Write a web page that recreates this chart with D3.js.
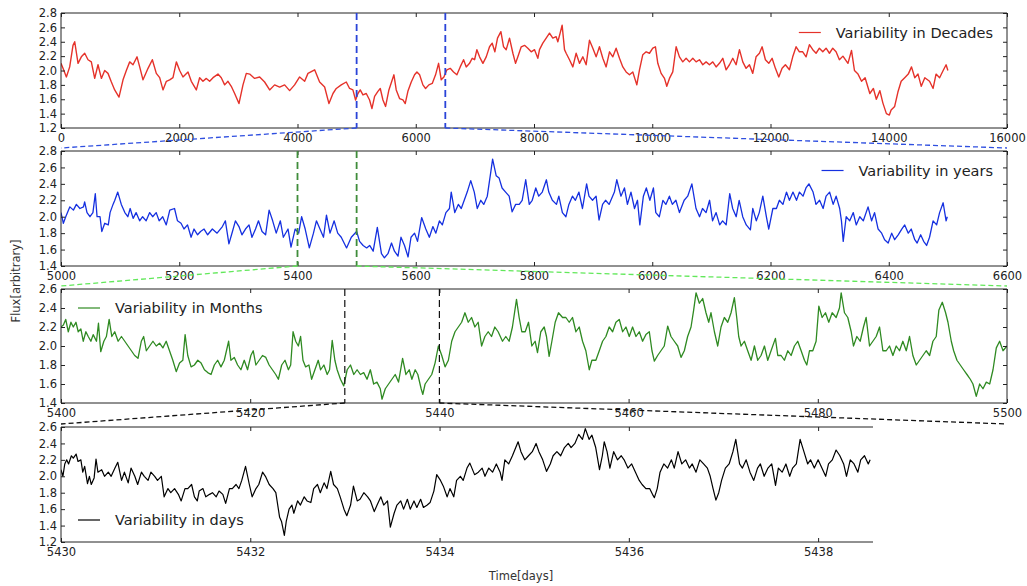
<!DOCTYPE html>
<html><head><meta charset="utf-8">
<script src="https://cdn.jsdelivr.net/npm/d3@7"></script>
<style>body{margin:0;background:#fff} svg{display:block;font-family:"DejaVu Sans",sans-serif}</style>
</head><body><svg id="c" width="1027" height="586"></svg>
<script>
// ---------------- DATA ----------------
const decadesSeries = [[0,2.10],[34,2.03],[91,1.91],[147,2.05],[203,2.35],[232,2.40],[288,2.10],[344,2.19],[401,2.24],[457,2.15],[513,2.12],[570,1.89],[626,2.08],[683,1.89],[739,2.00],[795,1.96],[852,1.84],[908,1.73],[981,1.63],[1049,1.87],[1105,2.00],[1162,2.12],[1218,2.08],[1286,2.19],[1331,2.05],[1387,1.87],[1472,2.03],[1545,2.15],[1612,1.96],[1669,1.90],[1725,1.73],[1782,1.85],[1838,1.87],[1894,1.90],[1951,2.12],[2007,2.00],[2063,1.91],[2148,1.98],[2204,1.85],[2289,1.73],[2345,1.90],[2401,1.85],[2458,1.89],[2514,1.85],[2571,1.90],[2655,1.95],[2711,1.90],[2768,1.80],[2824,1.85],[2880,1.78],[2937,1.68],[3010,1.54],[3078,1.80],[3134,1.96],[3191,1.95],[3275,1.89],[3360,1.91],[3444,1.84],[3529,1.73],[3613,1.80],[3698,1.77],[3782,1.80],[3867,1.72],[3951,1.80],[4036,1.91],[4121,1.85],[4177,1.96],[4290,2.01],[4374,1.84],[4459,1.77],[4532,1.54],[4600,1.68],[4656,1.75],[4740,1.80],[4825,1.84],[4881,1.75],[4937,1.73],[4982,1.59],[5022,1.68],[5061,1.73],[5107,1.66],[5163,1.68],[5219,1.59],[5259,1.47],[5304,1.64],[5360,1.71],[5400,1.75],[5445,1.59],[5490,1.50],[5546,1.73],[5603,1.87],[5631,1.94],[5670,1.73],[5726,1.61],[5783,1.59],[5822,1.54],[5867,1.71],[5924,1.84],[5980,1.94],[6020,1.98],[6065,1.94],[6121,1.80],[6166,1.75],[6222,1.80],[6279,1.82],[6335,1.94],[6386,2.10],[6431,1.87],[6476,1.91],[6527,2.01],[6583,2.03],[6639,1.98],[6696,1.94],[6752,2.05],[6809,2.15],[6854,2.05],[6910,2.10],[6955,2.17],[6995,2.15],[7034,2.29],[7079,2.19],[7136,2.10],[7192,2.19],[7248,2.33],[7293,2.38],[7338,2.26],[7383,2.45],[7440,2.54],[7485,2.33],[7530,2.29],[7586,2.45],[7643,2.24],[7688,2.10],[7727,2.19],[7784,2.33],[7840,2.35],[7896,2.31],[7953,2.26],[8009,2.29],[8065,2.17],[8093,2.29],[8149,2.38],[8206,2.45],[8262,2.52],[8318,2.45],[8375,2.47],[8403,2.40],[8442,2.52],[8476,2.63],[8516,2.29],[8544,2.24],[8600,2.15],[8657,2.05],[8713,2.24],[8769,2.10],[8826,2.19],[8882,2.08],[8938,2.42],[8995,2.31],[9051,2.19],[9107,2.33],[9164,2.17],[9220,2.05],[9277,2.26],[9333,2.19],[9389,2.31],[9446,2.17],[9502,2.05],[9558,1.98],[9615,1.94],[9671,1.98],[9739,1.80],[9784,2.01],[9840,2.22],[9897,2.26],[9953,2.24],[10009,2.31],[10054,2.33],[10094,2.10],[10150,1.96],[10207,1.89],[10246,1.78],[10291,1.89],[10347,1.98],[10404,2.33],[10460,2.19],[10516,2.12],[10573,2.17],[10629,2.12],[10686,2.17],[10742,2.12],[10798,2.15],[10855,2.08],[10911,2.12],[10967,2.08],[11024,2.12],[11080,2.05],[11136,2.10],[11193,2.17],[11249,2.01],[11306,2.08],[11362,2.17],[11418,2.08],[11475,2.29],[11531,2.12],[11587,2.03],[11644,2.08],[11700,1.96],[11756,2.19],[11813,2.24],[11858,2.33],[11914,2.15],[11971,2.10],[12027,2.17],[12083,2.03],[12140,1.91],[12196,2.03],[12252,2.08],[12320,2.01],[12376,2.19],[12433,2.33],[12489,2.26],[12545,2.26],[12602,2.19],[12658,2.36],[12715,2.29],[12771,2.24],[12827,2.31],[12884,2.26],[12940,2.31],[12997,2.24],[13053,2.31],[13109,2.26],[13165,2.15],[13225,2.20],[13310,2.10],[13370,2.28],[13420,2.00],[13480,1.95],[13540,1.85],[13600,1.90],[13680,1.68],[13740,1.75],[13790,1.60],[13850,1.72],[13900,1.55],[13960,1.40],[14010,1.38],[14040,1.45],[14100,1.50],[14155,1.70],[14210,1.85],[14270,1.90],[14330,1.95],[14385,2.05],[14440,1.90],[14495,1.95],[14550,1.78],[14610,1.90],[14690,1.85],[14750,1.75],[14800,1.95],[14860,1.90],[14920,2.00],[14970,2.08],[15000,2.00]];

const yearsSeries = [[5000,2.05],[5004,1.92],[5008,2.0],[5015,2.12],[5021,2.08],[5026,2.15],[5032,2.1],[5038,2.12],[5040,2.18],[5044,2.05],[5049,2.0],[5054,2.05],[5058,2.28],[5061,2.0],[5066,2.0],[5069,1.82],[5074,1.92],[5080,1.9],[5083,2.05],[5088,2.15],[5091,2.2],[5096,2.3],[5102,2.15],[5108,2.05],[5113,2.0],[5117,2.1],[5122,1.98],[5127,2.05],[5133,1.95],[5138,2.0],[5144,1.95],[5150,2.05],[5155,2.0],[5161,2.05],[5166,1.95],[5172,2.0],[5178,1.9],[5184,2.08],[5192,2.1],[5197,1.95],[5203,1.92],[5208,1.85],[5214,1.9],[5220,1.75],[5225,1.85],[5231,1.78],[5236,1.82],[5242,1.85],[5248,1.78],[5256,1.85],[5264,1.8],[5273,1.88],[5278,1.95],[5284,1.67],[5290,1.82],[5295,1.95],[5301,1.88],[5306,1.78],[5312,1.85],[5318,1.9],[5323,1.75],[5329,1.85],[5334,1.95],[5340,1.82],[5346,1.78],[5352,2.08],[5358,1.95],[5364,1.8],[5371,1.95],[5376,1.75],[5384,1.85],[5389,1.63],[5396,1.85],[5402,1.8],[5407,2.0],[5413,1.85],[5420,1.62],[5427,1.8],[5432,1.95],[5438,1.85],[5444,1.75],[5449,2.02],[5455,1.8],[5462,1.95],[5468,1.8],[5474,1.75],[5483,1.62],[5491,1.75],[5500,1.82],[5505,1.7],[5511,1.65],[5517,1.62],[5522,1.65],[5528,1.58],[5535,1.87],[5542,1.55],[5547,1.5],[5553,1.55],[5559,1.68],[5564,1.58],[5570,1.52],[5575,1.75],[5581,1.65],[5587,1.51],[5592,1.75],[5598,1.8],[5603,1.7],[5610,1.99],[5617,1.85],[5623,1.75],[5629,1.88],[5634,1.8],[5640,1.95],[5645,1.9],[5651,2.05],[5657,2.1],[5660,2.3],[5666,2.05],[5672,2.15],[5677,2.1],[5682,2.2],[5687,2.3],[5693,2.44],[5699,2.3],[5704,2.1],[5710,2.2],[5715,2.15],[5721,2.25],[5727,2.55],[5730,2.7],[5736,2.5],[5741,2.47],[5746,2.35],[5752,2.3],[5758,2.25],[5763,2.06],[5769,2.15],[5775,2.15],[5780,2.2],[5786,2.45],[5792,2.15],[5797,2.2],[5803,2.35],[5808,2.25],[5814,2.3],[5821,2.45],[5825,2.3],[5831,2.2],[5838,2.15],[5842,2.25],[5848,2.05],[5854,2.0],[5859,2.15],[5865,2.25],[5870,2.2],[5876,2.3],[5882,2.1],[5889,2.4],[5893,2.25],[5899,2.2],[5905,2.25],[5910,1.96],[5916,2.15],[5921,2.2],[5927,2.15],[5936,2.3],[5940,2.45],[5947,2.25],[5953,2.35],[5958,2.15],[5964,2.3],[5970,2.1],[5975,2.2],[5979,1.9],[5985,2.25],[5990,2.35],[5996,2.2],[6002,2.35],[6006,2.05],[6012,2.0],[6018,2.2],[6023,2.15],[6029,2.25],[6034,2.15],[6040,2.2],[6046,2.05],[6054,2.2],[6060,2.25],[6067,2.4],[6074,2.1],[6080,2.0],[6085,2.1],[6091,2.05],[6097,2.2],[6102,1.95],[6108,2.05],[6114,1.9],[6119,1.95],[6125,1.9],[6131,2.28],[6136,2.1],[6142,2.0],[6147,2.2],[6153,2.0],[6159,1.9],[6166,1.84],[6170,2.1],[6176,1.95],[6181,2.05],[6187,2.25],[6193,2.0],[6197,1.85],[6204,2.1],[6210,2.1],[6215,2.2],[6221,2.15],[6227,2.3],[6232,2.2],[6238,2.3],[6244,2.2],[6249,2.3],[6255,2.25],[6260,2.35],[6265,2.4],[6272,2.3],[6277,2.15],[6283,2.2],[6289,2.1],[6294,2.25],[6300,2.3],[6306,2.15],[6311,2.25],[6317,2.1],[6320,1.95],[6323,1.7],[6328,2.0],[6334,1.95],[6340,2.05],[6345,1.9],[6351,2.0],[6357,1.95],[6365,2.12],[6371,1.95],[6376,2.05],[6382,1.85],[6388,1.8],[6393,1.72],[6399,1.68],[6405,1.8],[6410,1.72],[6416,1.78],[6422,1.85],[6427,1.9],[6433,1.8],[6438,1.85],[6444,1.72],[6448,1.68],[6454,1.78],[6459,1.7],[6464,1.65],[6469,1.75],[6475,1.95],[6481,1.9],[6486,2.05],[6492,2.17],[6497,1.95],[6499,2.0]];

const monthsSeries = [[5400,2.2],[5400.25,2.22],[5400.5,2.28],[5400.77,2.15],[5401.05,2.25],[5401.3,2.2],[5401.58,2.25],[5401.82,2.15],[5402.1,2.18],[5402.35,2.05],[5402.63,2.15],[5402.88,2.1],[5403.16,2.05],[5403.4,2.12],[5403.75,2.05],[5403.96,2.24],[5404.2,1.94],[5404.53,2.05],[5404.8,2.1],[5405.09,2.28],[5405.37,2.1],[5405.68,2.15],[5406.04,2.05],[5406.39,2.1],[5406.74,2.05],[5407.09,2.0],[5407.44,1.95],[5407.79,1.9],[5408.14,1.87],[5408.49,2.05],[5408.74,2.1],[5409.02,1.95],[5409.37,2.0],[5409.72,2.05],[5410.07,2.0],[5410.42,2.03],[5410.77,1.98],[5411.12,2.05],[5411.47,1.95],[5411.82,1.85],[5412.18,1.73],[5412.53,1.82],[5412.88,1.85],[5413.12,2.12],[5413.4,1.9],[5413.75,1.78],[5414.1,1.8],[5414.46,1.85],[5414.81,1.82],[5415.16,1.75],[5415.51,1.72],[5415.86,1.7],[5416.21,1.8],[5416.56,1.85],[5416.91,1.78],[5417.26,1.85],[5417.72,2.05],[5417.96,1.85],[5418.32,1.88],[5418.67,1.8],[5419.02,1.75],[5419.37,1.85],[5419.72,1.75],[5420.07,1.9],[5420.32,1.95],[5420.6,1.8],[5420.95,1.85],[5421.3,1.9],[5421.65,1.88],[5422.0,1.8],[5422.35,1.75],[5422.7,1.7],[5422.98,1.65],[5423.33,1.8],[5423.68,1.85],[5424.04,1.75],[5424.28,1.8],[5424.53,2.15],[5424.81,2.05],[5425.09,2.0],[5425.33,2.1],[5425.58,1.85],[5425.86,1.78],[5426.21,1.8],[5426.49,1.65],[5426.84,1.75],[5427.19,1.85],[5427.44,1.75],[5427.79,1.8],[5428.14,1.7],[5428.39,1.75],[5428.67,2.06],[5428.95,1.85],[5429.19,1.75],[5429.54,1.65],[5429.89,1.58],[5430.25,1.75],[5430.6,1.8],[5430.95,1.7],[5431.3,1.75],[5431.65,1.7],[5432.0,1.72],[5432.35,1.65],[5432.7,1.75],[5433.05,1.6],[5433.4,1.62],[5433.75,1.55],[5433.93,1.44],[5434.28,1.55],[5434.63,1.6],[5434.98,1.65],[5435.33,1.7],[5435.68,1.62],[5436.11,1.87],[5436.46,1.7],[5436.81,1.75],[5437.09,1.65],[5437.44,1.75],[5437.72,1.7],[5438.07,1.55],[5438.25,1.49],[5438.49,1.6],[5438.84,1.65],[5439.19,1.7],[5439.54,1.82],[5439.89,2.0],[5440.25,1.9],[5440.6,1.78],[5440.95,1.85],[5441.3,2.05],[5441.65,2.15],[5442.0,2.2],[5442.35,2.25],[5442.7,2.35],[5443.05,2.25],[5443.4,2.3],[5443.75,2.2],[5444.1,2.25],[5444.46,2.0],[5444.81,2.1],[5445.16,2.15],[5445.51,2.1],[5445.86,2.2],[5446.21,2.15],[5446.67,2.05],[5447.02,2.1],[5447.37,2.05],[5447.72,2.2],[5448.15,2.49],[5448.43,2.3],[5448.71,2.15],[5449.07,2.15],[5449.42,2.25],[5449.77,2.0],[5450.12,2.05],[5450.37,1.93],[5450.72,2.15],[5451.08,2.2],[5451.32,2.1],[5451.6,1.89],[5451.89,2.05],[5452.24,2.25],[5452.59,2.35],[5453.02,2.3],[5453.37,2.3],[5453.72,2.25],[5454.07,2.3],[5454.43,2.15],[5454.78,2.2],[5455.13,2.05],[5455.48,1.95],[5455.84,1.75],[5456.12,1.85],[5456.54,1.85],[5456.9,1.95],[5457.25,2.05],[5457.6,2.1],[5457.95,2.2],[5458.31,2.15],[5458.66,2.25],[5459.01,2.28],[5459.37,2.15],[5459.72,2.2],[5460.07,2.1],[5460.42,2.2],[5460.78,2.1],[5461.13,2.15],[5461.48,2.05],[5461.83,2.12],[5462.19,2.15],[5462.47,1.95],[5462.72,1.84],[5463.07,1.9],[5463.42,1.95],[5463.77,2.0],[5464.13,2.21],[5464.48,2.1],[5464.83,2.05],[5465.19,2.0],[5465.54,1.88],[5465.89,1.95],[5466.24,2.1],[5466.6,2.2],[5466.88,2.38],[5467.13,2.56],[5467.48,2.45],[5467.83,2.5],[5468.18,2.35],[5468.47,2.25],[5468.71,2.35],[5469.07,2.15],[5469.42,2.0],[5469.77,2.2],[5470.12,2.3],[5470.48,2.25],[5470.83,2.35],[5471.18,2.51],[5471.43,2.3],[5471.64,2.1],[5471.89,2.0],[5472.24,2.05],[5472.59,1.95],[5472.95,1.85],[5473.3,2.0],[5473.65,1.85],[5474.0,1.9],[5474.36,2.0],[5474.71,1.85],[5475.06,1.95],[5475.52,2.08],[5475.77,1.9],[5476.12,1.9],[5476.47,1.85],[5476.83,1.95],[5477.18,1.9],[5477.53,2.0],[5477.88,2.05],[5478.24,1.95],[5478.59,1.85],[5478.84,1.8],[5479.12,1.95],[5479.47,1.95],[5479.82,2.05],[5480.11,2.42],[5480.46,2.3],[5480.81,2.35],[5481.16,2.25],[5481.52,2.35],[5481.94,2.3],[5482.29,2.4],[5482.47,2.56],[5482.82,2.35],[5483.17,2.3],[5483.53,2.15],[5483.77,2.0],[5484.13,2.1],[5484.48,2.05],[5484.83,2.2],[5485.11,2.3],[5485.47,2.0],[5485.82,2.05],[5486.17,2.1],[5486.53,2.2],[5486.88,1.95],[5487.23,1.95],[5487.58,2.0],[5487.94,1.9],[5488.29,2.0],[5488.64,1.95],[5488.99,2.05],[5489.35,1.95],[5489.7,2.1],[5490.05,1.9],[5490.41,1.8],[5490.76,1.85],[5491.11,1.9],[5491.46,1.95],[5491.82,1.9],[5492.17,2.05],[5492.52,2.1],[5492.8,2.38],[5493.16,2.46],[5493.51,2.35],[5493.76,2.25],[5494.11,2.05],[5494.36,1.95],[5494.71,1.85],[5495.06,1.8],[5495.41,1.75],[5495.77,1.7],[5496.12,1.65],[5496.4,1.6],[5496.75,1.47],[5497.11,1.6],[5497.46,1.55],[5497.81,1.62],[5498.17,1.6],[5498.52,1.75],[5498.87,1.98],[5499.22,2.05],[5499.58,1.95],[5500,2.0]];

const daysSeries = [[5430.0,2.08],[5430.02,2.0],[5430.04,2.15],[5430.06,2.2],[5430.08,2.15],[5430.11,2.25],[5430.13,2.22],[5430.16,2.27],[5430.18,2.18],[5430.21,2.2],[5430.23,2.05],[5430.25,2.12],[5430.28,1.91],[5430.3,2.0],[5430.32,1.9],[5430.35,1.98],[5430.37,2.21],[5430.39,2.05],[5430.43,2.08],[5430.46,2.0],[5430.5,2.05],[5430.53,2.0],[5430.57,2.1],[5430.6,2.17],[5430.64,1.95],[5430.67,2.05],[5430.71,1.92],[5430.74,2.1],[5430.78,2.0],[5430.81,1.9],[5430.85,2.05],[5430.88,2.0],[5430.92,1.95],[5430.95,2.05],[5430.99,2.0],[5431.02,1.95],[5431.06,2.0],[5431.09,1.75],[5431.13,1.85],[5431.16,1.8],[5431.2,1.85],[5431.24,1.78],[5431.27,1.7],[5431.31,1.85],[5431.34,1.85],[5431.38,1.9],[5431.41,1.75],[5431.44,1.7],[5431.46,1.82],[5431.5,1.85],[5431.53,1.75],[5431.57,1.78],[5431.6,1.8],[5431.64,1.75],[5431.67,1.82],[5431.71,1.78],[5431.74,1.67],[5431.78,1.85],[5431.81,1.85],[5431.85,1.9],[5431.88,1.85],[5431.91,1.95],[5431.95,2.12],[5431.99,1.9],[5432.02,1.75],[5432.06,1.85],[5432.09,1.9],[5432.13,2.05],[5432.16,2.0],[5432.2,1.9],[5432.24,1.85],[5432.27,1.8],[5432.31,1.5],[5432.33,1.45],[5432.36,1.28],[5432.38,1.45],[5432.41,1.6],[5432.44,1.65],[5432.46,1.55],[5432.5,1.7],[5432.53,1.65],[5432.57,1.75],[5432.6,1.7],[5432.64,1.68],[5432.67,1.85],[5432.71,1.9],[5432.74,1.8],[5432.78,1.92],[5432.81,1.85],[5432.85,2.06],[5432.88,1.9],[5432.92,1.85],[5432.95,1.75],[5432.99,1.6],[5433.02,1.52],[5433.06,1.65],[5433.09,1.88],[5433.13,1.7],[5433.16,1.72],[5433.2,1.8],[5433.24,1.75],[5433.27,1.7],[5433.31,1.57],[5433.34,1.65],[5433.38,1.75],[5433.41,1.65],[5433.45,1.7],[5433.48,1.38],[5433.52,1.55],[5433.55,1.65],[5433.59,1.7],[5433.62,1.6],[5433.66,1.72],[5433.69,1.6],[5433.73,1.7],[5433.76,1.62],[5433.8,1.72],[5433.83,1.62],[5433.87,1.65],[5433.9,1.68],[5433.94,1.82],[5433.97,2.02],[5434.01,1.95],[5434.04,1.88],[5434.08,1.75],[5434.11,1.85],[5434.15,1.75],[5434.18,1.95],[5434.22,2.0],[5434.25,1.95],[5434.29,2.1],[5434.32,2.16],[5434.37,2.02],[5434.41,2.05],[5434.45,2.1],[5434.48,2.0],[5434.52,2.1],[5434.56,2.05],[5434.6,2.15],[5434.64,2.05],[5434.66,1.95],[5434.69,2.2],[5434.73,2.15],[5434.77,2.25],[5434.83,2.42],[5434.86,2.3],[5434.9,2.2],[5434.94,2.25],[5434.98,2.3],[5435.02,2.4],[5435.05,2.3],[5435.09,2.2],[5435.13,2.06],[5435.17,2.15],[5435.2,2.25],[5435.24,2.3],[5435.28,2.25],[5435.32,2.35],[5435.36,2.4],[5435.39,2.35],[5435.43,2.4],[5435.47,2.51],[5435.51,2.45],[5435.54,2.58],[5435.58,2.45],[5435.61,2.5],[5435.65,2.35],[5435.69,2.08],[5435.72,2.25],[5435.74,2.42],[5435.77,2.3],[5435.8,2.1],[5435.84,2.3],[5435.88,2.2],[5435.92,2.25],[5435.95,2.2],[5435.99,2.1],[5436.03,2.15],[5436.07,2.05],[5436.11,1.95],[5436.14,1.9],[5436.18,1.85],[5436.22,1.85],[5436.25,1.78],[5436.27,1.74],[5436.3,1.85],[5436.33,2.05],[5436.37,2.15],[5436.41,2.1],[5436.45,2.2],[5436.48,2.1],[5436.52,2.3],[5436.56,2.15],[5436.6,2.2],[5436.64,2.1],[5436.67,2.15],[5436.71,2.05],[5436.75,2.2],[5436.79,2.15],[5436.83,2.1],[5436.86,2.0],[5436.89,1.85],[5436.92,1.71],[5436.95,1.8],[5436.98,1.95],[5437.02,2.1],[5437.06,2.15],[5437.1,2.3],[5437.13,2.45],[5437.17,2.15],[5437.2,2.1],[5437.24,2.2],[5437.28,2.05],[5437.32,1.95],[5437.36,2.1],[5437.39,2.15],[5437.43,2.0],[5437.47,2.1],[5437.51,2.15],[5437.55,1.89],[5437.58,2.1],[5437.62,2.05],[5437.66,2.15],[5437.7,2.0],[5437.73,2.1],[5437.77,2.15],[5437.81,2.45],[5437.85,2.3],[5437.89,2.15],[5437.92,2.2],[5437.96,2.1],[5438.0,2.2],[5438.04,2.1],[5438.08,2.0],[5438.11,2.15],[5438.15,2.2],[5438.19,2.32],[5438.23,2.25],[5438.27,2.15],[5438.3,2.0],[5438.34,2.2],[5438.38,2.15],[5438.42,2.05],[5438.45,2.2],[5438.49,2.25],[5438.53,2.15],[5438.55,2.2]];

const seriesNames = ["Variability in Decades","Variability in years","Variability in Months","Variability in days"];
const xDomains = [[0,16000],[5000,6600],[5400,5500],[5430,5438.58]];
const yDomains = [[1.2,2.8],[1.4,2.8],[1.4,2.6],[1.2,2.6]];
const xTickValues = [
  [0,2000,4000,6000,8000,10000,12000,14000,16000],
  [5000,5200,5400,5600,5800,6000,6200,6400,6600],
  [5400,5420,5440,5460,5480,5500],
  [5430,5432,5434,5436,5438]];
const yTickValues = [
  [1.2,1.4,1.6,1.8,2.0,2.2,2.4,2.6,2.8],
  [1.4,1.6,1.8,2.0,2.2,2.4,2.6,2.8],
  [1.4,1.6,1.8,2.0,2.2,2.4,2.6],
  [1.2,1.4,1.6,1.8,2.0,2.2,2.4,2.6]];
// zoom windows: window of panel i shown in panel i+1
const zoomWindows = [[5000,6500],[5400,5500],[5430,5440]];

// ---------------- STYLE / LAYOUT ----------------
const seriesColors = ["#e5322a","#1530e0","#2f8a22","#000000"];
const seriesWidths = [1.4,1.3,1.3,1.2];
const markColors = ["#2a44d8","#3f8c3a","#111111"];
const connColors = ["#2f4fe0","#62e85a","#111111"];
const LEFT = 61, FULLRIGHT = 1007;
const layout = [
  {top:13, bottom:128, right:1007, legend:"ur", rightSpine:true},
  {top:151,bottom:266, right:1007, legend:"ur", rightSpine:true},
  {top:289,bottom:403, right:1007, legend:"ul", rightSpine:true},
  {top:427,bottom:542, right:873,  legend:"ll", rightSpine:false}];
const allSeries = [decadesSeries, yearsSeries, monthsSeries, daysSeries];

const svg = d3.select("#c");
const scales = [];
const TICKFS = "11.5px", LEGFS = "14.5px";

allSeries.forEach((data, i) => {
  const L = layout[i];
  const x = d3.scaleLinear().domain(xDomains[i]).range([LEFT, L.right]);
  const y = d3.scaleLinear().domain(yDomains[i]).range([L.bottom, L.top]);
  scales.push({x, y});
  const g = svg.append("g");
  const clipId = "clip" + i;
  svg.append("clipPath").attr("id", clipId).append("rect")
    .attr("x", LEFT).attr("y", L.top).attr("width", L.right - LEFT).attr("height", L.bottom - L.top);

  g.append("path").datum(data)
    .attr("clip-path", `url(#${clipId})`)
    .attr("fill", "none").attr("stroke", seriesColors[i]).attr("stroke-width", seriesWidths[i])
    .attr("stroke-linejoin", "round")
    .attr("d", d3.line().x(d => x(d[0])).y(d => y(d[1])));

  const fmtY = d3.format(".1f");
  const bottomAx = g.append("g").attr("transform", `translate(0,${L.bottom})`)
    .call(d3.axisBottom(x).tickValues(xTickValues[i]).tickFormat(d3.format("d")).tickSizeInner(-4).tickSizeOuter(0).tickPadding(5.5));
  const topAx = g.append("g").attr("transform", `translate(0,${L.top})`)
    .call(d3.axisTop(x).tickValues(xTickValues[i]).tickFormat("").tickSizeInner(-4).tickSizeOuter(0));
  const leftAx = g.append("g").attr("transform", `translate(${LEFT},0)`)
    .call(d3.axisLeft(y).tickValues(yTickValues[i]).tickFormat(fmtY).tickSizeInner(-4).tickSizeOuter(0).tickPadding(4));
  const axes = [bottomAx, topAx, leftAx];
  if (L.rightSpine) {
    axes.push(g.append("g").attr("transform", `translate(${L.right},0)`)
      .call(d3.axisRight(y).tickValues(yTickValues[i]).tickFormat("").tickSizeInner(-4).tickSizeOuter(0)));
  }
  axes.forEach(a => {
    a.select(".domain").remove();
    a.selectAll(".tick line").attr("stroke", "#222");
    a.selectAll("text").attr("font-size", TICKFS).attr("fill", "#222").attr("font-family", "DejaVu Sans");
  });
  const sp = g.append("g").attr("stroke", "#222").attr("stroke-width", 1).attr("fill", "none");
  sp.append("line").attr("x1", LEFT).attr("x2", L.right).attr("y1", L.top).attr("y2", L.top);
  sp.append("line").attr("x1", LEFT).attr("x2", L.right).attr("y1", L.bottom).attr("y2", L.bottom);
  sp.append("line").attr("x1", LEFT).attr("x2", LEFT).attr("y1", L.top).attr("y2", L.bottom);
  if (L.rightSpine) sp.append("line").attr("x1", L.right).attr("x2", L.right).attr("y1", L.top).attr("y2", L.bottom);

  const lg = g.append("g");
  const txt = lg.append("text").text(seriesNames[i]).attr("font-size", LEGFS).attr("fill", "#222")
    .attr("dominant-baseline", "central");
  let tx, cy;
  if (L.legend === "ur") {
    const w = txt.node().getComputedTextLength();
    tx = L.right - 14 - w; cy = L.top + 19.5;
  } else if (L.legend === "ul") {
    tx = LEFT + 54; cy = L.top + 19;
  } else {
    tx = LEFT + 54; cy = L.bottom - 22;
  }
  txt.attr("x", tx).attr("y", cy);
  lg.append("line").attr("x1", tx - 37).attr("x2", tx - 15).attr("y1", cy).attr("y2", cy)
    .attr("stroke", seriesColors[i]).attr("stroke-width", 1.2);
});

zoomWindows.forEach((w, i) => {
  const L = layout[i], N = layout[i + 1], s = scales[i];
  w.forEach(v => {
    svg.append("line").attr("x1", s.x(v)).attr("x2", s.x(v)).attr("y1", L.top).attr("y2", L.bottom)
      .attr("stroke", markColors[i]).attr("stroke-width", i === 2 ? 1.2 : 1.8)
      .attr("stroke-dasharray", "7,4");
  });
  const ends = [LEFT, FULLRIGHT];
  w.forEach((v, k) => {
    svg.append("line").attr("x1", s.x(v)).attr("y1", L.bottom).attr("x2", ends[k]).attr("y2", N.top - 3)
      .attr("stroke", connColors[i]).attr("stroke-width", 1.3).attr("stroke-dasharray", "5,3");
  });
});

svg.append("text").text("Flux[arbitrary]").attr("transform", "translate(16,281) rotate(-90)")
  .attr("text-anchor", "middle").attr("dominant-baseline", "central")
  .attr("font-size", "11.5px").attr("fill", "#333");
svg.append("text").text("Time[days]").attr("x", 521).attr("y", 580)
  .attr("text-anchor", "middle").attr("font-size", "11.5px").attr("fill", "#333");
</script></body></html>
